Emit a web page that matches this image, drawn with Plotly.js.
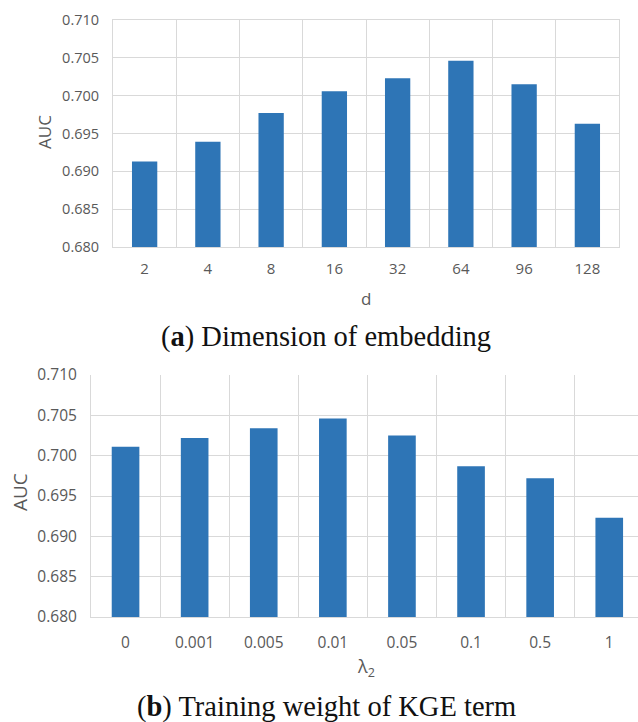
<!DOCTYPE html>
<html>
<head>
<meta charset="utf-8">
<script src="https://cdn.plot.ly/plotly-3.0.1.min.js"></script>
<style>html,body{margin:0;padding:0;background:#fff;}#chart{width:638px;height:722px;}</style>
</head>
<body>
<div id="chart"></div>
<script>
// Data
const dimLabels = ['2', '4', '8', '16', '32', '64', '96', '128'];
const aucDim = [0.6913, 0.6939, 0.6977, 0.7006, 0.7023, 0.7046, 0.7015, 0.6963];
const lambdaLabels = ['0', '0.001', '0.005', '0.01', '0.05', '0.1', '0.5', '1'];
const aucLambda = [0.7011, 0.7022, 0.7034, 0.7046, 0.7025, 0.6987, 0.6972, 0.6923];

const W = 638, H = 722;
const px = x => x / W;
const py = y => 1 - y / H;

const barColor = '#2e75b6';
const gridColor = '#d9d9d9';
const tickColor = '#595959';
const sansFont = 'Open Sans, DejaVu Sans, sans-serif';
const serifFont = 'Liberation Serif, DejaVu Serif, serif';

const traces = [
  {type: 'bar', x: dimLabels, y: aucDim, marker: {color: barColor}, xaxis: 'x', yaxis: 'y', hoverinfo: 'skip'},
  {type: 'bar', x: lambdaLabels, y: aucLambda, marker: {color: barColor}, xaxis: 'x2', yaxis: 'y2', hoverinfo: 'skip'}
];

const yCommon = {
  range: [0.68, 0.71], dtick: 0.005, tick0: 0.68, tickformat: '.3f',
  showgrid: true, gridcolor: gridColor, gridwidth: 1, zeroline: false,
  ticks: '', tickfont: {family: sansFont, size: 14.5, color: tickColor},
  ticklabelstandoff: 10, fixedrange: true
};
const xCommon = {
  type: 'category', tickson: 'boundaries', showgrid: true, gridcolor: gridColor, gridwidth: 1,
  ticks: '', tickfont: {family: sansFont, size: 15, color: tickColor}, zeroline: false,
  ticklabelstandoff: 8, fixedrange: true
};

const layout = {
  width: W, height: H,
  margin: {l: 0, r: 0, t: 0, b: 0},
  paper_bgcolor: '#ffffff', plot_bgcolor: '#ffffff',
  showlegend: false, bargap: 0.6,
  xaxis: Object.assign({}, xCommon, {domain: [px(113), px(619)], anchor: 'y', range: [-0.5, 7.5],
    showline: true, linecolor: gridColor, mirror: true}),
  yaxis: Object.assign({}, yCommon, {domain: [py(247), py(20)], anchor: 'x',
    showline: true, linecolor: gridColor, mirror: true}),
  xaxis2: Object.assign({}, xCommon, {domain: [px(91), 1], anchor: 'y2', range: [-0.5, 7.416],
    showline: true, linecolor: gridColor, ticklabelstandoff: 11,
    tickfont: {family: sansFont, size: 15.5, color: tickColor}}),
  yaxis2: Object.assign({}, yCommon, {domain: [py(617), py(375)], anchor: 'x2',
    showline: true, linecolor: gridColor, tickfont: {family: sansFont, size: 15.5, color: tickColor}}),
  annotations: [
    {text: 'AUC', xref: 'paper', yref: 'paper', x: px(44), y: py(132), xanchor: 'center', yanchor: 'middle',
     textangle: -90, showarrow: false, font: {family: sansFont, size: 17, color: tickColor}},
    {text: 'd', xref: 'paper', yref: 'paper', x: px(366), y: py(298), xanchor: 'center', yanchor: 'middle',
     showarrow: false, font: {family: sansFont, size: 17, color: tickColor}},
    {text: '(<b>a</b>) Dimension of embedding', xref: 'paper', yref: 'paper', x: px(326), y: py(337),
     xanchor: 'center', yanchor: 'middle', showarrow: false, font: {family: serifFont, size: 28.5, color: '#111111'}},
    {text: 'AUC', xref: 'paper', yref: 'paper', x: px(20), y: py(492), xanchor: 'center', yanchor: 'middle',
     textangle: -90, showarrow: false, font: {family: sansFont, size: 19, color: tickColor}},
    {text: 'λ<sub>2</sub>', xref: 'paper', yref: 'paper', x: px(366), y: py(667), xanchor: 'center', yanchor: 'middle',
     showarrow: false, font: {family: sansFont, size: 18, color: tickColor}},
    {text: '(<b>b</b>) Training weight of KGE term', xref: 'paper', yref: 'paper', x: px(326), y: py(707),
     xanchor: 'center', yanchor: 'middle', showarrow: false, font: {family: serifFont, size: 28.5, color: '#111111'}}
  ]
};

Plotly.newPlot('chart', traces, layout, {displayModeBar: false, staticPlot: true});
</script>
</body>
</html>
